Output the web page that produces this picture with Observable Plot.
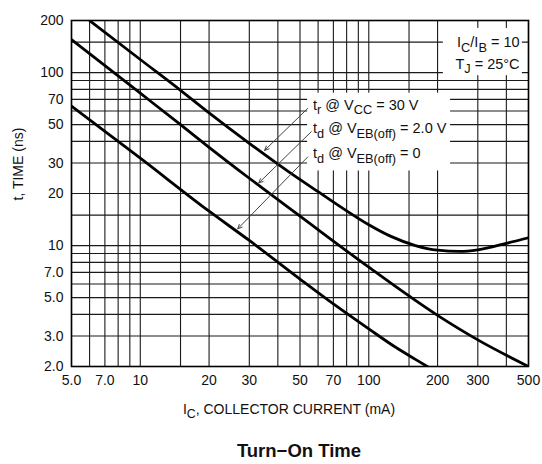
<!DOCTYPE html>
<html>
<head>
<meta charset="utf-8">
<script src="https://cdn.jsdelivr.net/npm/d3@7"></script>
<script src="https://cdn.jsdelivr.net/npm/@observablehq/plot@0.6"></script>
<style>
  html, body { margin: 0; padding: 0; background: #fff; }
  body { width: 542px; height: 464px; overflow: hidden; font-family: "Liberation Sans", Arial, Helvetica, sans-serif; }
  #title { font-weight: bold; font-size: 18.5px; line-height: 20px; text-align: center; padding-left: 56px; padding-top: 16px; color: #111; }
</style>
</head>
<body>
<div id="chart"></div>
<div id="title">Turn−On Time</div>
<script>
// ---- data (log–log chart) ----
const riseCurrent = [6, 10, 15, 20, 30, 45, 60, 75, 100, 125, 160, 200, 250, 300, 400, 500];
const riseTime    = [200, 119, 79, 58.5, 39, 26.5, 20.5, 16.8, 13.2, 11.3, 10.0, 9.4, 9.25, 9.45, 10.3, 11.1];

const delay2Current = [5, 10, 15, 20, 30, 50, 100, 200, 300, 500];
const delay2Time    = [155, 76, 50, 37, 24.5, 14.8, 7.5, 3.95, 2.85, 2.0];

const delay0Current = [5, 10, 20, 30, 50, 70, 100, 130, 160, 190];
const delay0Time    = [64, 32, 15.8, 10.7, 6.4, 4.6, 3.3, 2.6, 2.2, 1.92];

const xTicks = [5, 7, 10, 20, 30, 50, 70, 100, 200, 300, 500];
const xTickLabels = ["5.0", "7.0", "10", "20", "30", "50", "70", "100", "200", "300", "500"];
const yTicks = [2, 3, 5, 7, 10, 20, 30, 50, 70, 100, 200];
const yTickLabels = ["2.0", "3.0", "5.0", "7.0", "10", "20", "30", "50", "70", "100", "200"];

const xGrid = [5, 6, 7, 8, 9, 10, 15, 20, 30, 40, 50, 60, 70, 80, 90, 100, 150, 200, 300, 400, 500];
const yGrid = [2, 3, 4, 5, 6, 7, 8, 9, 10, 15, 20, 30, 40, 50, 60, 70, 80, 90, 100, 150, 200];

// curve labels (data coordinates: current mA, time ns)
const curveLabels = ["t_{r} @ V_{CC} = 30 V", "t_{d} @ V_{EB(off)} = 2.0 V", "t_{d} @ V_{EB(off)} = 0"];
const curveLabelX = [57, 57, 57];
const curveLabelY = [65, 47.5, 34];
const arrowFromX = [54, 56, 54];
const arrowFromY = [62, 45.5, 32.5];
const arrowToX = [35, 33, 26.7];
const arrowToY = [35.5, 23, 12.5];

const condLabels = ["I_{C}/I_{B} = 10", "T_{J} = 25°C"];
const condX = [457, 457];
const condY = [149, 112];

// white label backgrounds
const boxX1 = [54, 212];
const boxX2 = [228, 470];
const boxY1 = [27, 96];
const boxY2 = [76, 180];

const xLabel = "I_{C}, COLLECTOR CURRENT (mA)";
const yLabel = "t, TIME (ns)";

// ---- tables ----
const rise = riseCurrent.map((x, i) => ({x, y: riseTime[i]}));
const d2 = delay2Current.map((x, i) => ({x, y: delay2Time[i]}));
const d0 = delay0Current.map((x, i) => ({x, y: delay0Time[i]}));

const FONT = '"Liberation Sans", Arial, Helvetica, sans-serif';
const curveStyle = {x: "x", y: "y", stroke: "#000", strokeWidth: 2.8, curve: "monotone-x", clip: true};

const chart = Plot.plot({
  width: 542,
  height: 425,
  marginLeft: 71,
  marginRight: 14,
  marginTop: 20,
  marginBottom: 59,
  style: {fontFamily: FONT, fontSize: "14px", background: "white", color: "#111"},
  x: {type: "log", domain: [5, 500], axis: null},
  y: {type: "log", domain: [2, 200], axis: null},
  marks: [
    Plot.ruleX(xGrid, {stroke: "#1a1a1a", strokeWidth: 1.1}),
    Plot.ruleY(yGrid, {stroke: "#1a1a1a", strokeWidth: 1.1}),
    Plot.rect(d3.range(boxX1.length), {x1: boxX1, x2: boxX2, y1: boxY1, y2: boxY2, fill: "white"}),
    Plot.frame({stroke: "#000", strokeWidth: 1.6}),
    Plot.line(rise, curveStyle),
    Plot.line(d2, curveStyle),
    Plot.line(d0, curveStyle),
    Plot.arrow(d3.range(arrowFromX.length), {
      x1: arrowFromX, y1: arrowFromY, x2: arrowToX, y2: arrowToY,
      stroke: "#444", strokeWidth: 1, headLength: 7, headAngle: 50
    }),
    Plot.text(curveLabels, {x: curveLabelX, y: curveLabelY, text: d => d, textAnchor: "start", fontSize: 14.5, fill: "#111"}),
    Plot.text(condLabels, {x: condX, y: condY, text: d => d, textAnchor: "end", fontSize: 14.5, fill: "#111"}),
    // tick labels
    Plot.text(xTicks, {x: d => d, frameAnchor: "bottom", dy: 18, text: xTickLabels, fontSize: 14, fill: "#111"}),
    Plot.text(yTicks, {y: d => d, frameAnchor: "left", dx: -8, textAnchor: "end", text: yTickLabels, fontSize: 14, fill: "#111"}),
    // axis titles
    Plot.text([xLabel], {frameAnchor: "bottom", text: d => d, dy: 47, dx: -11, fontSize: 14, fill: "#111"}),
    Plot.text([yLabel], {frameAnchor: "left", text: d => d, rotate: -90, dx: -53, dy: 7, fontSize: 14, fill: "#111"})
  ]
});

// turn _{...} into subscript tspans
function subify(root) {
  root.querySelectorAll("text").forEach(t => {
    const s = t.textContent;
    if (!s.includes("_{")) return;
    t.textContent = "";
    const parts = s.split(/(_\{[^}]*\})/);
    let shifted = false;
    parts.forEach(p => {
      if (!p) return;
      const ts = document.createElementNS("http://www.w3.org/2000/svg", "tspan");
      if (p.startsWith("_{")) {
        ts.textContent = p.slice(2, -1);
        ts.setAttribute("font-size", "88%");
        ts.setAttribute("dy", "0.36em");
        shifted = true;
      } else {
        ts.textContent = p;
        if (shifted) ts.setAttribute("dy", "-0.317em");
        shifted = false;
      }
      t.appendChild(ts);
    });
  });
}
subify(chart);
document.getElementById("chart").appendChild(chart);
</script>
</body>
</html>
